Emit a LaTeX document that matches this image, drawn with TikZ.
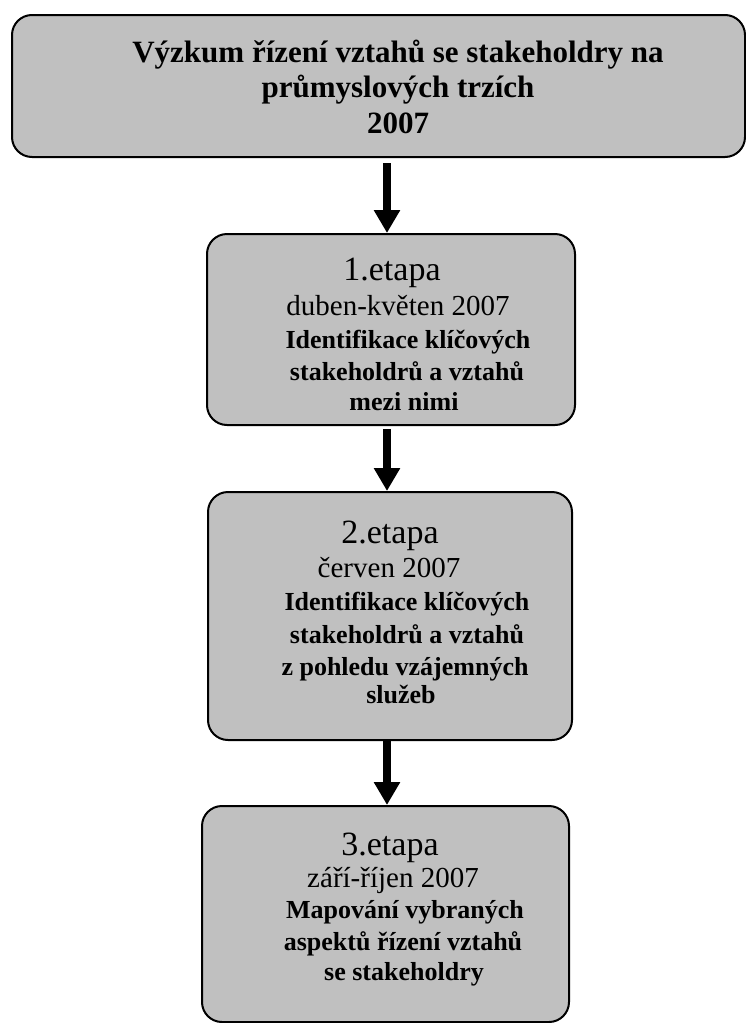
\documentclass[tikz,border=0pt]{standalone}
\usepackage{fontspec}
\setmainfont{Liberation Serif}
\usetikzlibrary{arrows.meta}
\definecolor{boxgray}{HTML}{C0C0C0}
\begin{document}
\begin{tikzpicture}[x=1pt,y=-1pt,
  box/.style={draw=black, line width=2pt, fill=boxgray, rounded corners=20pt, inner sep=0pt},
  arr/.style={line width=7.5pt, -{Triangle[width=25pt,length=23pt]}},
  ttl/.style={anchor=base, inner sep=0pt, font=\fontsize{31}{36}\selectfont\bfseries},
  stage/.style={anchor=base, inner sep=0pt, font=\fontsize{34}{40}\selectfont},
  datel/.style={anchor=base, inner sep=0pt, font=\fontsize{29}{34}\selectfont},
  desc/.style={anchor=base, inner sep=0pt, font=\fontsize{26}{31}\selectfont\bfseries}]
\useasboundingbox (0,0) rectangle (746,1023);

% boxes
\node[box, minimum width=733pt, minimum height=142pt] (b0) at (378.5,86) {};
\node[box, minimum width=368pt, minimum height=191pt] (b1) at (391,329.5) {};
\node[box, minimum width=364pt, minimum height=248pt] (b2) at (390,616) {};
\node[box, minimum width=367pt, minimum height=216pt] (b3) at (385.5,914) {};

% title text
\node[ttl] (t0a) at (398,62) {Výzkum řízení vztahů se stakeholdry na};
\node[ttl] (t0b) at (398,97) {průmyslových trzích};
\node[ttl] (t0c) at (398,133) {2007};

% stage 1
\node[stage] (t1a) at (392,280) {1.etapa};
\node[datel] (t1b) at (398,315) {duben-květen 2007};
\node[desc] (t1c) at (408,348) {Identifikace klíčových};
\node[desc] (t1d) at (407,380) {stakeholdrů a vztahů};
\node[desc] (t1e) at (404,410) {mezi nimi};

% stage 2
\node[stage] (t2a) at (390,543) {2.etapa};
\node[datel] (t2b) at (389,577) {červen 2007};
\node[desc] (t2c) at (407,610) {Identifikace klíčových};
\node[desc] (t2d) at (407,643) {stakeholdrů a vztahů};
\node[desc] (t2e) at (405,675) {z pohledu vzájemných};
\node[desc] (t2f) at (401,703) {služeb};

% stage 3
\node[stage] (t3a) at (390,855) {3.etapa};
\node[datel] (t3b) at (393,887) {září-říjen 2007};
\node[desc] (t3c) at (405,918) {Mapování vybraných};
\node[desc] (t3d) at (403,950) {aspektů řízení vztahů};
\node[desc] (t3e) at (404,980) {se stakeholdry};

% arrows
\coordinate (ax) at (387,0);
\draw[arr, shorten <=5pt] (ax |- b0.south) -- (ax |- b1.north);
\draw[arr, shorten <=3pt] (ax |- b1.south) -- (ax |- b2.north);
\draw[arr] (ax |- b2.south) -- (ax |- b3.north);
\end{tikzpicture}
\end{document}
